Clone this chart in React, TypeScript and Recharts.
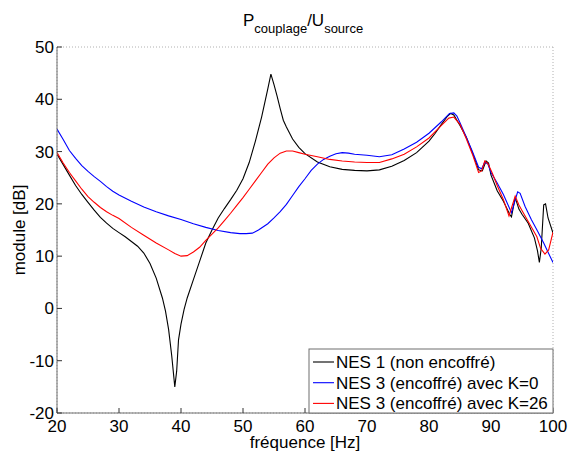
import React from 'react';
import { LineChart, Line, XAxis, YAxis, CartesianGrid } from 'recharts';

const xTicks = [20, 30, 40, 50, 60, 70, 80, 90, 100];
const yTicks = [-20, -10, 0, 10, 20, 30, 40, 50];

const seriesNames = ['NES 1 (non encoffré)', 'NES 3 (encoffré) avec K=0', 'NES 3 (encoffré) avec K=26'];
const seriesColors = ['#000000', '#0000ff', '#ff0000'];

const blackFreq = [20, 21, 22, 23, 24, 25, 26, 27, 28, 29, 30, 31, 32, 33, 34, 35, 36, 37, 37.5, 38, 38.5, 39, 39.3, 39.6, 40, 40.5, 41, 42, 43, 44, 45, 46, 47, 48, 49, 50, 51, 52, 53, 54, 54.5, 55, 55.5, 56, 56.5, 57, 58, 59, 60, 62, 64, 66, 68, 70, 72, 74, 76, 78, 80, 81, 82, 83, 83.5, 84, 85, 86, 87, 88, 88.6, 89.2, 89.6, 90, 91, 92, 93, 93.3, 93.9, 94.5, 95, 96, 97, 97.5, 97.8, 98.1, 98.5, 98.8, 99.2, 100];
const blackDb = [29.5, 27.5, 25.5, 23.5, 21.8, 20.3, 18.8, 17.4, 16.3, 15.3, 14.5, 13.7, 12.8, 11.9, 10.6, 8.6, 5.8, 2, -0.5, -4, -9, -15, -12, -6, -3, -0.2, 2, 5.5, 9, 12.5, 15, 17.3, 19.1, 20.8, 22.6, 24.8, 27.9, 32, 36.6, 42, 44.8, 42.8, 40.6, 38.2, 36, 34.7, 32.4, 30.8, 29.6, 28, 27.1, 26.6, 26.4, 26.3, 26.5, 27.2, 28.3, 29.8, 32, 33.5, 35.2, 36.8, 37.3, 37, 35, 32.8, 29.8, 26.5, 26.3, 28.2, 27.8, 25.5, 22.5, 20.5, 18, 17.5, 21.2, 19, 18, 16.3, 13.5, 11, 8.8, 11.5, 19.8, 20, 17.3, 14.4];

const blueFreq = [20, 21, 22, 23, 24, 25, 26, 27, 28, 29, 30, 32, 34, 36, 38, 40, 42, 44, 46, 48, 49.5, 50.5, 51.5, 52.5, 54, 55, 56, 57, 58, 59, 60, 61, 62, 63, 64, 65, 66, 67, 68, 70, 72, 74, 76, 78, 80, 82, 83.3, 84, 84.5, 85, 86, 87, 88, 88.5, 89, 89.5, 90, 91, 92, 93.3, 94.3, 94.7, 95.5, 96.5, 97.5, 98.5, 99.3, 100];
const blueDb = [34.3, 32.3, 30.2, 28.7, 27.3, 26.2, 25.2, 24.3, 23.3, 22.4, 21.7, 20.5, 19.4, 18.5, 17.7, 17, 16.2, 15.5, 14.9, 14.5, 14.3, 14.3, 14.4, 15, 16.2, 17.3, 18.5, 19.9, 21.6, 23.3, 24.8, 26.4, 27.6, 28.5, 29.1, 29.6, 29.8, 29.7, 29.5, 29.3, 29, 29.4, 30.5, 31.8, 33.5, 35.7, 37.3, 37.4, 36.8, 35.5, 32.8, 30, 27, 26.7, 28, 27.6, 26, 24, 21.8, 18.3, 22.3, 22, 19.5, 17, 14.8, 12.5, 10.5, 8.8];

const redFreq = [20, 21, 22, 23, 24, 25, 26, 27, 28, 29, 30, 32, 34, 36, 38, 39, 40, 41, 42, 43, 44, 45, 46, 47, 48, 49, 50, 51, 52, 53, 54, 55, 56, 57, 58, 59, 60, 62, 64, 66, 68, 70, 72, 74, 76, 78, 80, 82, 83.2, 84, 85, 86, 87, 88, 88.5, 89, 89.5, 90.2, 91, 92, 92.9, 93.9, 94.5, 95.2, 96.3, 97.4, 98, 98.7, 99.3, 100];
const redDb = [29.8, 27.8, 26, 24.4, 22.8, 21.4, 20.3, 19.3, 18.5, 17.8, 17.2, 15.5, 14, 12.5, 11.2, 10.5, 10, 10.1, 10.8, 11.7, 13, 14.2, 15.4, 16.8, 18.2, 19.7, 21.2, 22.8, 24.4, 26, 27.6, 28.8, 29.7, 30.1, 30.1, 29.8, 29.5, 29, 28.5, 28.2, 28, 27.9, 27.9, 28.6, 29.5, 30.9, 32.6, 35, 36.4, 36.6, 35.2, 32.5, 29.5, 26, 26.3, 28.2, 27.7, 25.9, 23.5, 20.8, 17.7, 21.5, 19.8, 18.3, 16, 13.7, 11.5, 10.4, 11.2, 14.6];

const toData = (fs: number[], vs: number[]) => fs.map((f, i) => ({ f, v: vs[i] }));
const seriesData = [toData(blackFreq, blackDb), toData(blueFreq, blueDb), toData(redFreq, redDb)];

const FONT = '"Liberation Sans", Arial, Helvetica, sans-serif';
const W = 569;
const H = 453;
const PL = 57;
const PR = 553;
const PT = 47;
const PB = 413;
const AX = '#6e6e6e';
const TK = '#333';
const TL = 5;

const BottomTick = (p: any) => (
  <g>
    <line x1={p.x} x2={p.x} y1={PB} y2={PB - TL} stroke={TK} />
    <text x={p.x} y={p.y} dy="0.71em" textAnchor="middle" fontSize={17} fontFamily={FONT} fill="#000">{p.payload.value}</text>
  </g>
);
const LeftTick = (p: any) => (
  <g>
    <line x1={PL} x2={PL + TL} y1={p.y} y2={p.y} stroke={TK} />
    <text x={p.x} y={p.y} dy="0.355em" textAnchor="end" fontSize={17} fontFamily={FONT} fill="#000">{p.payload.value}</text>
  </g>
);
const TopTick = (p: any) => <line x1={p.x} x2={p.x} y1={PT} y2={PT + TL} stroke={TK} />;
const RightTick = (p: any) => <line x1={PR - TL} x2={PR} y1={p.y} y2={p.y} stroke={TK} />;

export default function App() {
  return (
    <div style={{ position: 'absolute', left: 0, top: 0, width: W, height: H, background: '#fff', fontFamily: FONT }}>
      <LineChart
        width={W}
        height={H}
        margin={{ top: PT, right: W - PR, bottom: 0, left: 0 }}
        style={{ fontFamily: FONT }}
      >
        <CartesianGrid stroke="#b0b0b0" strokeDasharray="1 2" />
        <XAxis
          xAxisId="b"
          type="number"
          dataKey="f"
          domain={[20, 100]}
          ticks={xTicks}
          allowDataOverflow
          height={H - PB}
          tickSize={0}
          tickMargin={7}
          tickLine={false}
          axisLine={{ stroke: AX }}
          tick={BottomTick}
        />
        <XAxis
          xAxisId="t"
          orientation="top"
          type="number"
          dataKey="f"
          domain={[20, 100]}
          ticks={xTicks}
          height={0}
          tickSize={0}
          tickLine={false}
          tick={TopTick}
          axisLine={{ stroke: AX }}
        />
        <YAxis
          yAxisId="l"
          type="number"
          domain={[-20, 50]}
          ticks={yTicks}
          allowDataOverflow
          width={PL}
          tickSize={0}
          tickMargin={3}
          tickLine={false}
          axisLine={{ stroke: AX }}
          tick={LeftTick}
        />
        <YAxis
          yAxisId="r"
          orientation="right"
          type="number"
          domain={[-20, 50]}
          ticks={yTicks}
          width={0}
          tickSize={0}
          tickLine={false}
          tick={RightTick}
          axisLine={{ stroke: AX }}
        />
        {seriesData.map((d, i) => (
          <Line
            key={i}
            xAxisId="b"
            yAxisId="l"
            data={d}
            dataKey="v"
            name={seriesNames[i]}
            stroke={seriesColors[i]}
            strokeWidth={1.1}
            dot={false}
            activeDot={false}
            isAnimationActive={false}
            type="linear"
          />
        ))}
      </LineChart>
      <svg width={W} height={H} style={{ position: 'absolute', left: 0, top: 0, pointerEvents: 'none' }} fontFamily={FONT}>
        <text x={243} y={26} textAnchor="start" fontSize={17} fill="#000">
          <tspan>P</tspan>
          <tspan fontSize={13} dy={7}>couplage</tspan>
          <tspan dy={-7}>/U</tspan>
          <tspan fontSize={13} dy={7}>source</tspan>
        </text>
        <text x={305} y={448} textAnchor="middle" fontSize={17} fill="#000">fréquence [Hz]</text>
        <text x={0} y={0} transform={`translate(25,${(PT + PB) / 2}) rotate(-90)`} textAnchor="middle" fontSize={17} fill="#000">module [dB]</text>
        <rect x={309} y={349} width={PR - 309} height={PB - 349} fill="#fff" stroke={AX} strokeWidth={1} />
        {seriesNames.map((n, i) => (
          <g key={i}>
            <line x1={313} x2={334} y1={362 + i * 20.7} y2={362 + i * 20.7} stroke={seriesColors[i]} strokeWidth={1.1} />
            <text x={336} y={362 + i * 20.7} dy="0.35em" fontSize={17} fill="#000">{n}</text>
          </g>
        ))}
      </svg>
    </div>
  );
}
